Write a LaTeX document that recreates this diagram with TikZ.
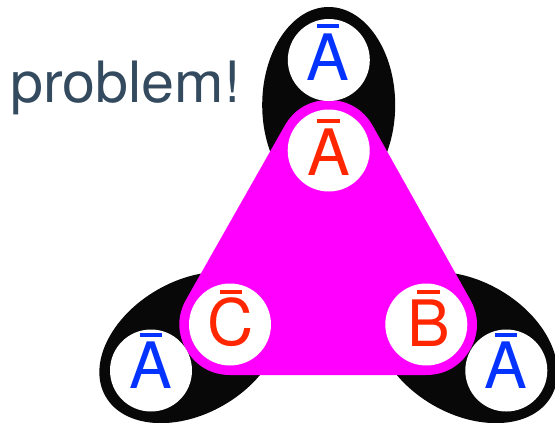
\documentclass[tikz,border=0pt]{standalone}
\usepackage{fontspec}
\usepackage{graphicx}
\setmainfont{TeX Gyre Heros}
\usetikzlibrary{shapes.geometric}
\definecolor{blueA}{HTML}{0433FF}
\definecolor{redA}{HTML}{FF2600}
\definecolor{magA}{HTML}{FF00FF}
\definecolor{inkA}{HTML}{344A5F}
\definecolor{blobA}{HTML}{080808}
\newcommand\barred[1]{\ooalign{#1\cr\hidewidth\raisebox{52pt}{\rule{22.5pt}{3.8pt}}\hidewidth\cr}}
\begin{document}
\begin{tikzpicture}[x=1pt,y=-1pt,
  blob/.style={ellipse, fill=blobA, inner sep=0pt, minimum width=133pt, minimum height=196pt},
  disc/.style={circle, fill=white, inner sep=0pt, minimum size=82pt},
  ltr/.style={inner sep=0pt, anchor=base, font=\fontsize{64}{64}\selectfont},
]
\useasboundingbox (0,0) rectangle (555,423);
\node[blob] (e1) at (328.7,105) {};
\node[blob, rotate=-60] (e2) at (190.5,347.5) {};
\node[blob, rotate=60] (e3) at (466.3,347.5) {};
\coordinate (pA) at (328.7,150.5);
\coordinate (pC) at (230,324.5);
\coordinate (pB) at (426.3,324.5);
\filldraw[magA, line width=101pt, line join=round] (pA) -- (pC) -- (pB) -- cycle;
\node[disc] (dA) at (pA) {};
\node[disc] (dC) at (pC) {};
\node[disc] (dB) at (pB) {};
\node[disc] (bT) at (328.8,60) {};
\node[disc] (bL) at (151,370.5) {};
\node[disc] (bR) at (506.3,370.5) {};
\node[ltr, text=blueA] (lT) at (328,80) {\barred{A}};
\node[ltr, text=redA] (lA) at (328.5,175) {\barred{A}};
\node[ltr, text=redA] (lC) at (231,345.5) {\barred{C}};
\node[ltr, text=redA] (lB) at (428.5,346) {\barred{B}};
\node[ltr, text=blueA] (lL) at (151.2,388.7) {\barred{A}};
\node[ltr, text=blueA] (lR) at (506.2,388.7) {\barred{A}};
\node[anchor=base west, inner sep=0pt, text=inkA, font=\fontsize{57}{57}\selectfont] (prob) at (10,102.7) {\scalebox{1.04}[1]{problem!}};
\end{tikzpicture}
\end{document}
